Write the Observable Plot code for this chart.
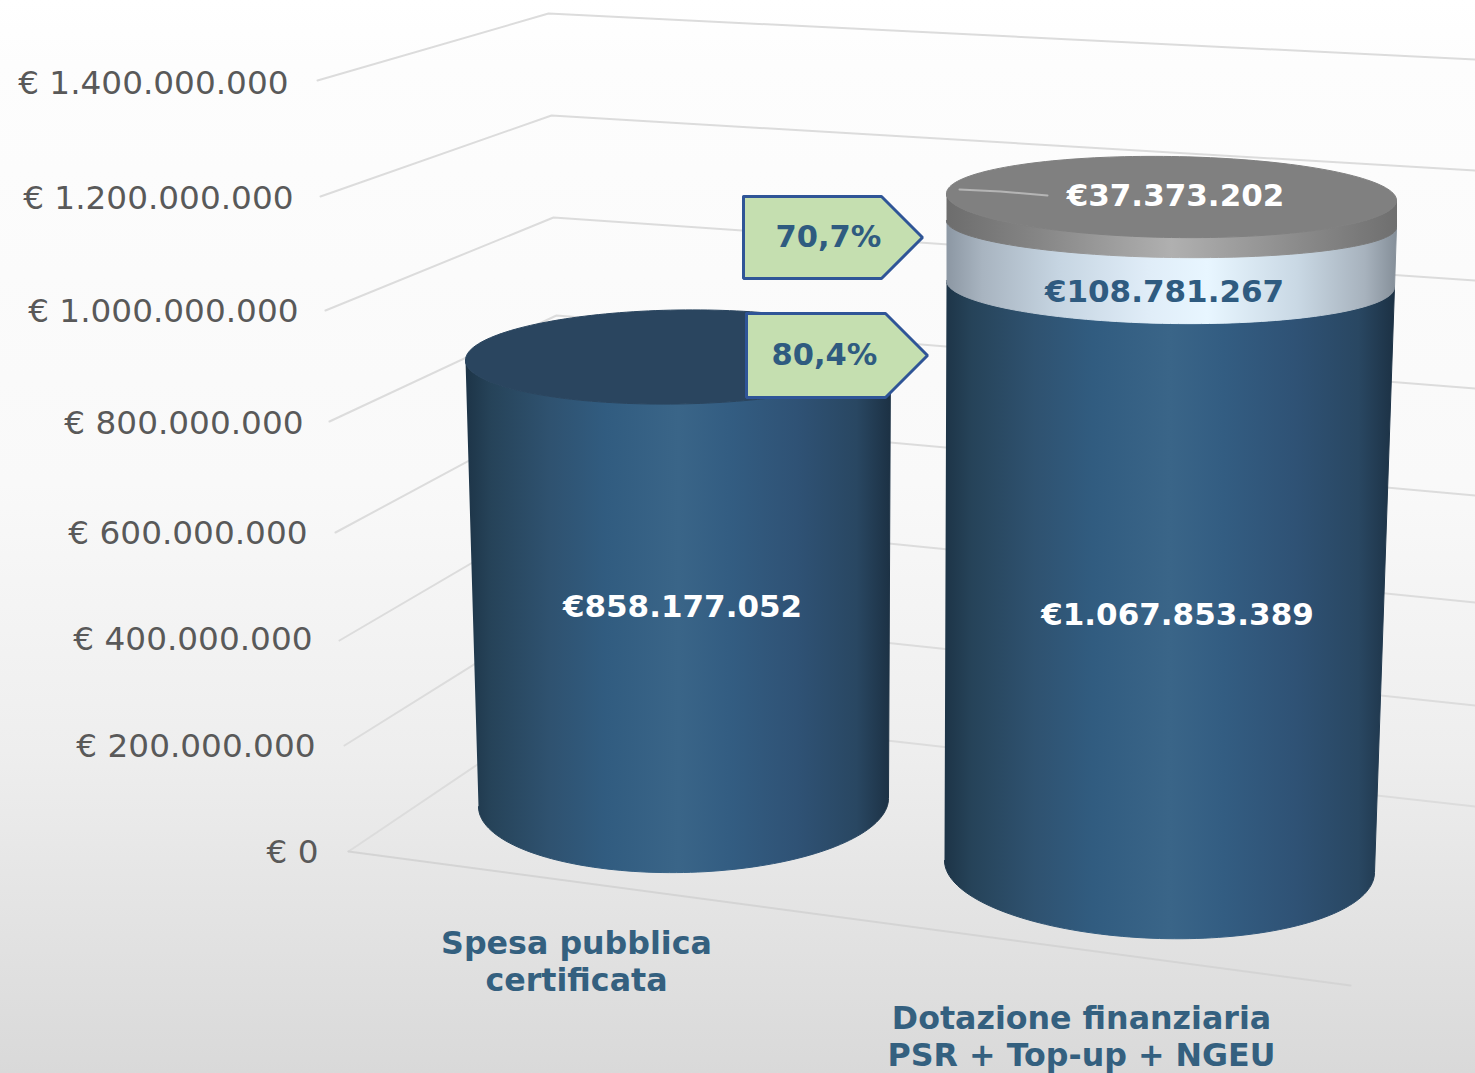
<!DOCTYPE html>
<html>
<head>
<meta charset="utf-8">
<script src="https://cdn.jsdelivr.net/npm/d3@7"></script>
<script src="https://cdn.jsdelivr.net/npm/@observablehq/plot@0.6"></script>
<style>
  html, body { margin: 0; padding: 0; background: #fff; overflow: hidden; }
  svg { display: block; }
</style>
</head>
<body>
<div id="chart"></div>
<script>
// ---- Data ----
const axisTicks = [0, 200e6, 400e6, 600e6, 800e6, 1000e6, 1200e6, 1400e6];
const categories = ["Spesa pubblica\ncertificata", "Dotazione finanziaria\nPSR + Top-up + NGEU"];
const spesaCertificata = 858177052;
const dotazioneSegments = [1067853389, 108781267, 37373202];
const shares = [0.804, 0.707];

// ---- Number formats ----
const itLocale = d3.formatLocale({decimal: ",", thousands: ".", grouping: [3], currency: ["€", ""]});
const fmtInt = itLocale.format(",d");
const fmtPct = itLocale.format(".1%");

// ---- 3D projection calibration: value -> picture position ----
const W = 1475, H = 1073;
const piece = (range) => d3.scaleLinear().domain(axisTicks).range(range);
const frontX = piece([348, 344, 339, 335, 329, 325, 320, 317]);
const frontY = piece([851, 745, 640, 532, 421, 310, 196, 80]);
const backX  = piece([566, 563, 561, 558, 556, 553, 551, 548]);
const backY  = piece([704, 608, 510, 412, 315, 217, 115, 13]);
const sideY  = piece([806, 705, 602, 495, 388, 280, 170, 59]);
const tickLabelX = piece([318, 315, 312, 307, 303, 298, 293, 288]);
const tickLabelY = piece([852, 746, 639, 533, 423, 311, 198, 83]);

const cum2 = d3.cumsum(dotazioneSegments);
function cylinderScale(domain, spec) {
  const s = {};
  for (const k of Object.keys(spec)) s[k] = d3.scaleLinear().domain(domain).range(spec[k]);
  return s;
}
const cyl1 = cylinderScale([0, spesaCertificata], {
  cx: [683, 677.5], cy: [802, 356.5], rx: [205, 212.5], ry: [70, 47], shear: [-0.02, -0.015]
});
const cyl2 = cylinderScale([0, cum2[0], cum2[1], cum2[2]], {
  cx: [1159, 1170, 1171, 1171], cy: [866, 283.5, 223.5, 196.5], rx: [215, 224, 225, 225],
  ry: [72, 39.5, 33.5, 40.5], shear: [0.028, 0.015, 0.015, 0.015]
});

function arc(cyl, v, t0, t1, n = 90) {
  const pts = [];
  for (let i = 0; i <= n; i++) {
    const t = t0 + (t1 - t0) * i / n;
    const dx = cyl.rx(v) * Math.cos(t);
    pts.push({x: cyl.cx(v) + dx, y: cyl.cy(v) + cyl.ry(v) * Math.sin(t) + cyl.shear(v) * dx});
  }
  return pts;
}
// Visible side of a slab between two values: lower half of each rim.
const side = (cyl, v0, v1) => [...arc(cyl, v1, Math.PI, 0), ...arc(cyl, v0, 0, Math.PI)];
const cap = (cyl, v) => arc(cyl, v, 0, 2 * Math.PI, 180);

const wallLines = axisTicks.flatMap(v => [
  {v, x: frontX(v), y: frontY(v)},
  {v, x: backX(v), y: backY(v)},
  {v, x: W, y: sideY(v)}
]);
const floorEdge = [{x: frontX(0), y: frontY(0)}, {x: 1350, y: 985}];

const axisLabels = axisTicks.map(v => ({
  x: tickLabelX(v), y: tickLabelY(v),
  text: v === 0 ? "€ 0" : "€ " + fmtInt(v)
}));

function callout(tipX, tipY, w, head, h, value, textDx) {
  const left = tipX - w, neck = tipX - head;
  return {
    outline: [[left, tipY - h/2], [neck, tipY - h/2], [tipX, tipY], [neck, tipY + h/2], [left, tipY + h/2], [left, tipY - h/2]]
      .map(([x, y]) => ({x, y, value})),
    label: {x: left + textDx, y: tipY, text: fmtPct(value)}
  };
}
const callouts = [callout(927, 355, 181, 42, 84, shares[0], 78), callout(922, 237, 179, 41, 82, shares[1], 85)];

const dataLabels = [
  {x: 682, y: 607, text: "€" + fmtInt(spesaCertificata), fill: "#ffffff"},
  {x: 1177, y: 615, text: "€" + fmtInt(dotazioneSegments[0]), fill: "#ffffff"},
  {x: 1164, y: 292, text: "€" + fmtInt(dotazioneSegments[1]), fill: "#2f5b80"},
  {x: 1175, y: 196, text: "€" + fmtInt(dotazioneSegments[2]), fill: "#ffffff"}
];
const categoryLabels = [
  {x: 576, y: 960, text: categories[0]},
  {x: 1081, y: 1035, text: categories[1]}
];
const leader = [{x: 959, y: 189}, {x: 1000, y: 191}, {x: 1047, y: 195}];

const fontFamily = "'DejaVu Sans', Verdana, sans-serif";
const solid = (id) => ({x: "x", y: "y", fill: `url(#${id})`, stroke: `url(#${id})`, strokeWidth: 1});
const plot = Plot.plot({
  width: W, height: H,
  margin: 0,
  style: {background: "#fff", fontFamily},
  x: {domain: [0, W], range: [0, W], axis: null},
  y: {domain: [0, H], range: [0, H], axis: null},
  marks: [
    Plot.rect([{}], {x1: 0, x2: W, y1: 0, y2: H, fill: "url(#bg)"}),
    Plot.line(wallLines, {x: "x", y: "y", z: "v", stroke: "#dcdcdc", strokeWidth: 2}),
    Plot.line(floorEdge, {x: "x", y: "y", stroke: "#d4d4d4", strokeWidth: 2}),

    Plot.line(side(cyl1, 0, spesaCertificata), solid("blueSide")),
    Plot.line(cap(cyl1, spesaCertificata), {x: "x", y: "y", fill: "#2a455f", stroke: "#2a455f", strokeWidth: 1}),

    Plot.line(side(cyl2, 0, cum2[0]), solid("blueSide")),
    Plot.line(side(cyl2, cum2[0], cum2[1]), solid("lightSide")),
    Plot.line(side(cyl2, cum2[1], cum2[2]), solid("graySide")),
    Plot.line(cap(cyl2, cum2[2]), {x: "x", y: "y", fill: "#808080", stroke: "#808080", strokeWidth: 1}),

    Plot.line(leader, {x: "x", y: "y", stroke: "#b5b5b5", strokeWidth: 2}),

    ...callouts.map(c => Plot.line(c.outline, {x: "x", y: "y", fill: "#c5dfb0", stroke: "#2f5597", strokeWidth: 3, strokeLinejoin: "miter"})),

    Plot.text(axisLabels, {x: "x", y: "y", text: "text", textAnchor: "end", fontSize: 32.7, fill: "#595959"}),
    Plot.text(dataLabels, {x: "x", y: "y", text: "text", fill: "fill", fontSize: 31, fontWeight: "bold"}),
    Plot.text(callouts.map(c => c.label), {x: "x", y: "y", text: "text", fontSize: 30.5, fontWeight: "bold", fill: "#2f5b80"}),
    Plot.text(categoryLabels, {x: "x", y: "y", text: "text", fontSize: 31.7, fontWeight: "bold", fill: "#34607f", lineHeight: 1.19})
  ]
});

// Gradient definitions for the background and the cylinder shading
const defs = d3.create("svg:defs");
function gradient(id, stops, vertical) {
  const g = defs.append("linearGradient").attr("id", id)
    .attr("x1", 0).attr("y1", 0).attr("x2", vertical ? 0 : 1).attr("y2", vertical ? 1 : 0);
  for (const [o, c] of stops) g.append("stop").attr("offset", o).attr("stop-color", c);
}
gradient("bg", [[0, "#ffffff"], [0.06, "#fdfdfd"], [0.45, "#f9f9f9"], [0.7, "#eeeeee"], [1, "#d9d9d9"]], true);
gradient("blueSide", [[0, "#1d3447"], [0.06, "#264359"], [0.2, "#2f5270"], [0.33, "#315c80"], [0.5, "#3a6588"], [0.62, "#335d82"], [0.78, "#2f5275"], [0.92, "#294762"], [1, "#1c3144"]]);
gradient("lightSide", [[0, "#8c97a3"], [0.08, "#a8b4c0"], [0.25, "#c6d5e2"], [0.45, "#e0edf8"], [0.58, "#e8f6ff"], [0.78, "#c9d8e4"], [0.93, "#a7b2bd"], [1, "#858f99"]]);
gradient("graySide", [[0, "#6d6d6d"], [0.2, "#858585"], [0.5, "#b0b0b0"], [0.75, "#8f8f8f"], [1, "#6f6f6f"]]);
plot.insertBefore(defs.node(), plot.firstChild);

document.getElementById("chart").appendChild(plot);
</script>
</body>
</html>
